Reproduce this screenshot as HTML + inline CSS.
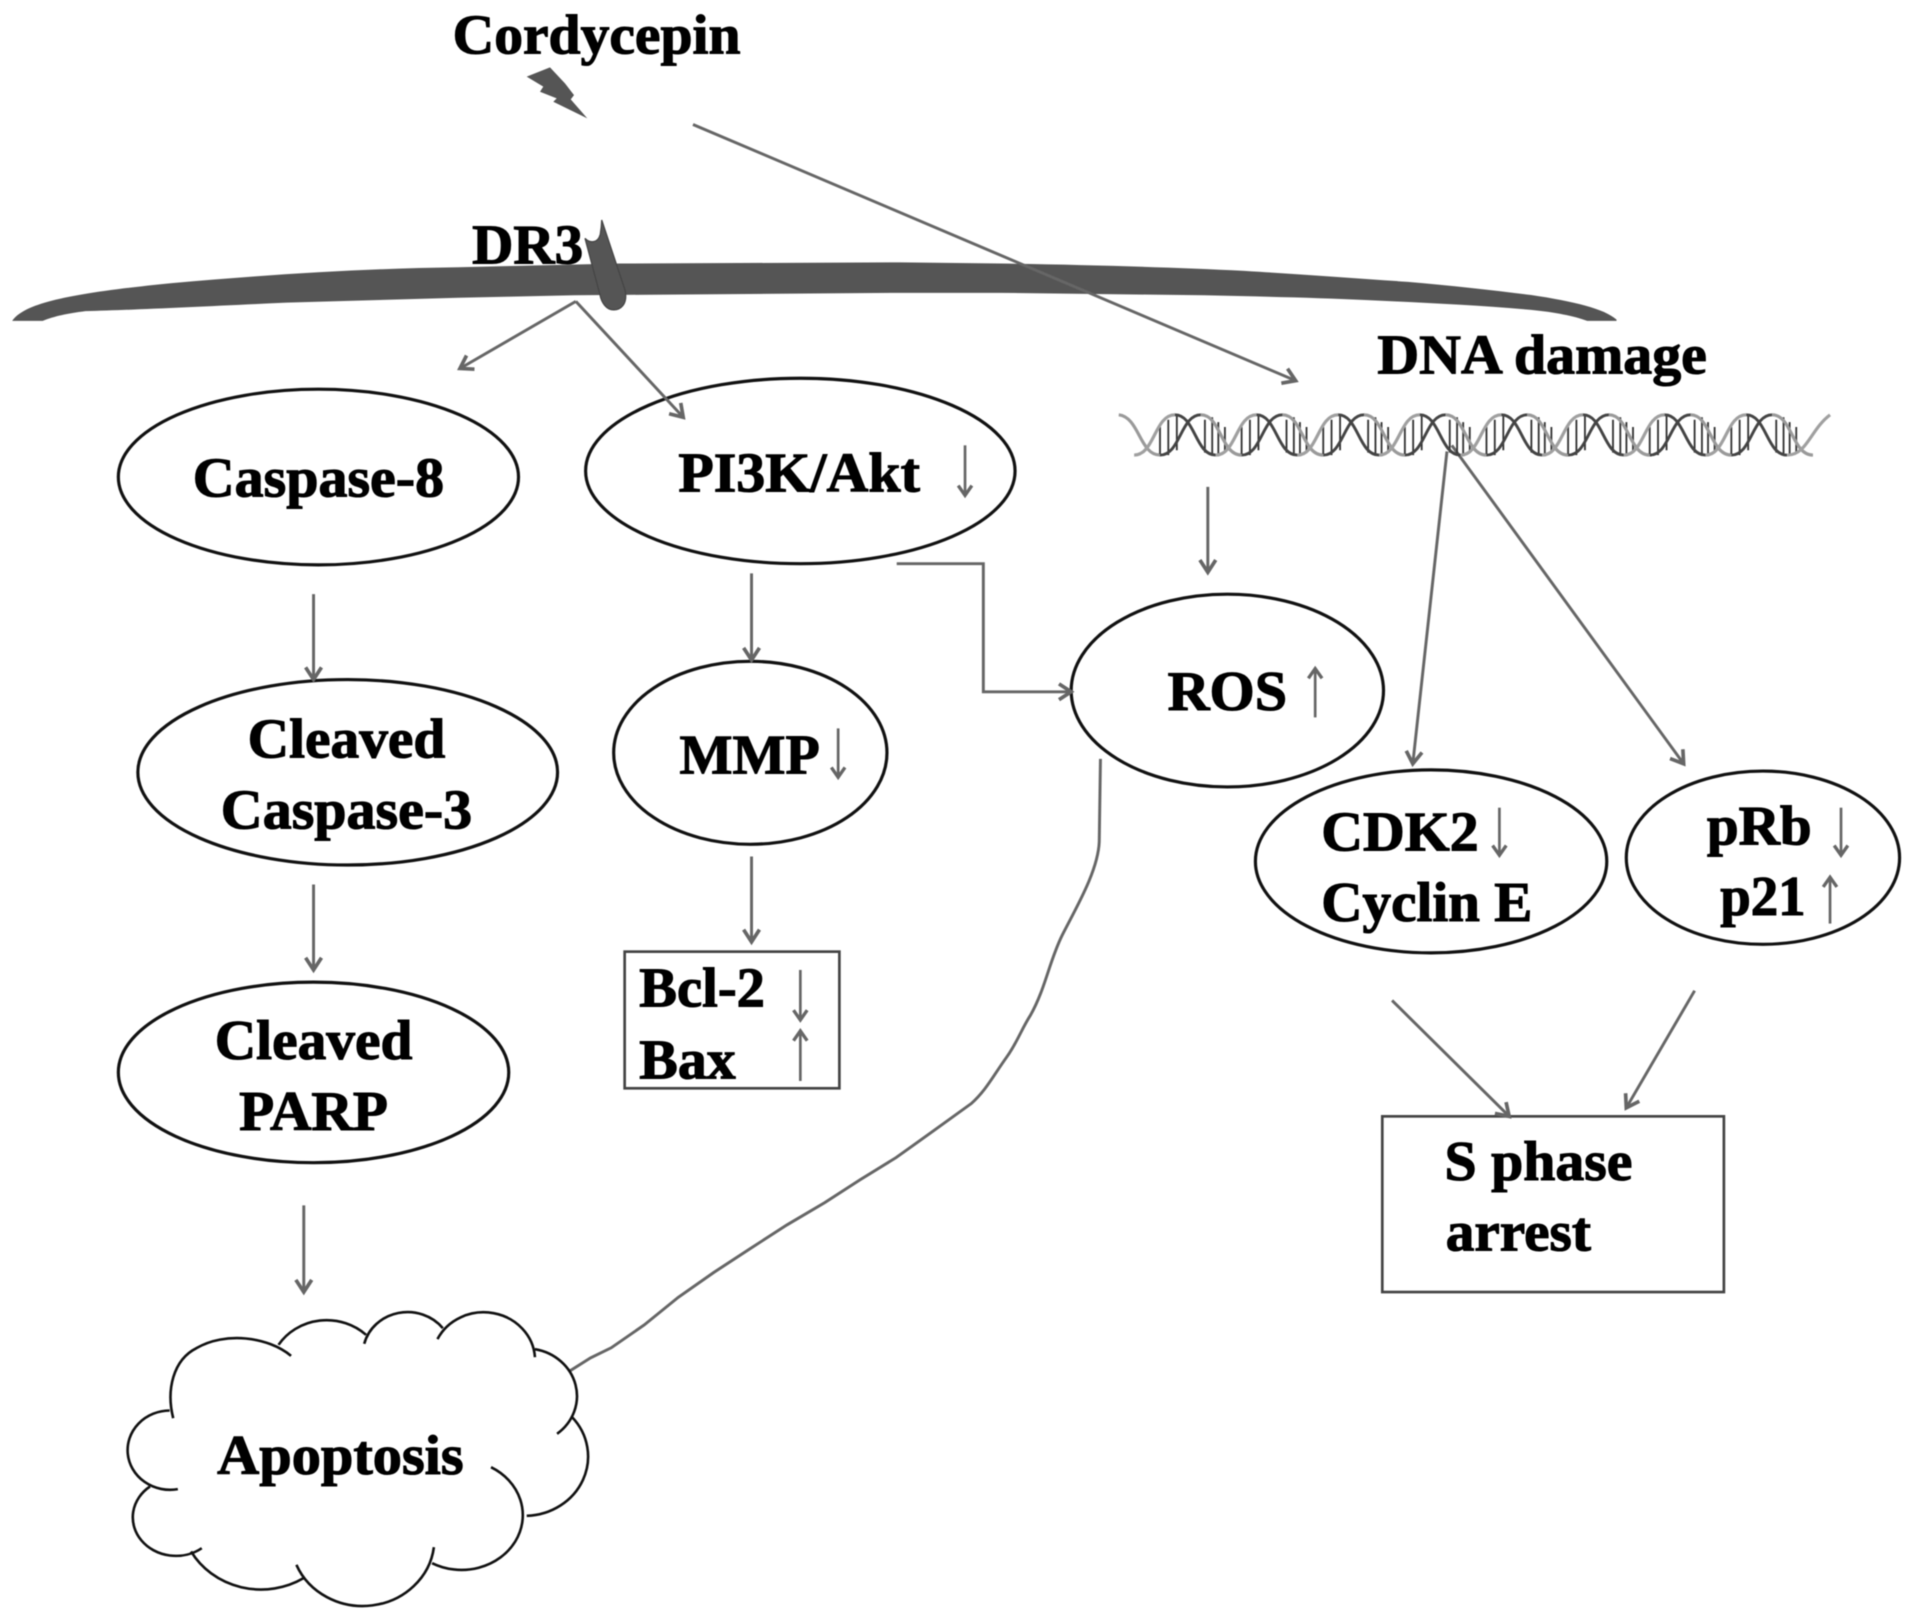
<!DOCTYPE html>
<html><head><meta charset="utf-8"><style>
html,body{margin:0;padding:0;background:#fff}
svg{display:block;filter:blur(.55px)}
text{font-family:"Liberation Serif",serif;font-weight:bold;font-size:46px;fill:#000;stroke:#000;stroke-width:.9px}
.e{fill:#fff;stroke:#111;stroke-width:2.6}
.a{fill:none;stroke:#666;stroke-width:2.4;marker-end:url(#h)}
.s{fill:none;stroke:#666;stroke-width:2.2;marker-end:url(#h2)}
.b{fill:#fff;stroke:#444;stroke-width:2.2}
</style></head><body>
<svg width="1913" height="1620" viewBox="0 0 1568 1327.8" xmlns="http://www.w3.org/2000/svg">
<defs>
<marker id="h" markerUnits="userSpaceOnUse" markerWidth="20" markerHeight="20" refX="14" refY="10" orient="auto" viewBox="0 0 20 20"><path d="M4,3.5 L14,10 L4,16.5" fill="none" stroke="#666" stroke-width="3"/></marker>
<marker id="h2" markerUnits="userSpaceOnUse" markerWidth="16" markerHeight="16" refX="14" refY="10" orient="auto" viewBox="0 0 20 20"><path d="M4,3 L14,10 L4,17" fill="none" stroke="#666" stroke-width="3.4"/></marker>
<g id="p">
<path d="M21.2,350 V372 M28,344 V373 M35,341 V369 M58,344 V371 M64,342 V373 M69,346 V373 M74.4,350 V371" stroke="#333" stroke-width="1.5"/>
<path d="M0,373 C16.7,373 16.7,340 33.45,340" fill="none" stroke="#a0a0a0" stroke-width="2.6"/>
<path d="M33.45,340 C50,340 50,373 66.9,373" fill="none" stroke="#444" stroke-width="2.4"/>
<path d="M21.2,373 C38,373 38,340 54.65,340" fill="none" stroke="#444" stroke-width="2.4"/>
<path d="M54.65,340 C71,340 71,373 88.1,373" fill="none" stroke="#9a9a9a" stroke-width="2.6"/>
</g>
</defs>
<rect width="1568" height="1327.8" fill="#fff"/>

<!-- membrane -->
<path d="M10,263 C20,248 60,240 141,232 C220,225 300,220 376,219 L508,216 L738,215 L820,216 C890,217 960,219 1020,222 C1070,225 1110,228 1154,231 C1190,234 1225,238 1255,241.8 C1290,247 1315,253 1325,262 L1325,263 L1301,263 C1290,259 1275,256 1255,254 C1210,250 1165,248 1121,246 C1080,244 1030,243 987,242 L820,240 L738,240 L471,242 L376,244 L235,248 C170,251 110,254 70,255 C55,257 45,259 35,263 Z" fill="#555"/>
<text x="387" y="216" textLength="91" lengthAdjust="spacingAndGlyphs">DR3</text>
<path d="M479.5,195.3 C483,199 490,200 492,192 Q493,186 493.2,180.3 L512.3,237.7 C515,250 508,254 503,254 C497,254 493,248 491.8,241.8 Z" fill="#555" stroke="#444" stroke-width="1"/>

<text x="371" y="44" textLength="236" lengthAdjust="spacingAndGlyphs">Cordycepin</text>
<path d="M431.7,62.8 L450.8,55.2 L463.1,68.3 L470.5,77.9 L467.8,81.4 L481.4,97 L453.5,83.4 L456.3,80.6 L442.6,75.2 L445.3,71 Z" fill="#555"/>

<line class="a" x1="568" y1="102" x2="1062" y2="312"/>
<line class="a" x1="472" y1="247" x2="377" y2="302"/>

<ellipse class="e" cx="261" cy="391" rx="164" ry="72"/>
<ellipse class="e" cx="656" cy="386" rx="176" ry="76"/>
<ellipse class="e" cx="285" cy="633" rx="172" ry="76"/>
<ellipse class="e" cx="257" cy="879" rx="160" ry="74"/>
<ellipse class="e" cx="615" cy="617" rx="112" ry="75"/>
<ellipse class="e" cx="1006" cy="566" rx="128" ry="79"/>
<ellipse class="e" cx="1173" cy="706" rx="144" ry="75"/>
<ellipse class="e" cx="1445" cy="703" rx="112" ry="71"/>
<rect class="b" x="512" y="780" width="176" height="112"/>
<rect class="b" x="1133" y="915" width="280" height="144"/>

<line class="a" x1="472" y1="247" x2="560" y2="342"/>

<text x="158" y="407" textLength="206" lengthAdjust="spacingAndGlyphs">Caspase-8</text>
<text x="556" y="403" textLength="198" lengthAdjust="spacingAndGlyphs">PI3K/Akt</text>
<text x="203" y="621" textLength="162" lengthAdjust="spacingAndGlyphs">Cleaved</text>
<text x="181" y="679" textLength="206" lengthAdjust="spacingAndGlyphs">Caspase-3</text>
<text x="176" y="868" textLength="162" lengthAdjust="spacingAndGlyphs">Cleaved</text>
<text x="196" y="926" textLength="122" lengthAdjust="spacingAndGlyphs">PARP</text>
<text x="557" y="634" textLength="115" lengthAdjust="spacingAndGlyphs">MMP</text>
<text x="524" y="825" textLength="103" lengthAdjust="spacingAndGlyphs">Bcl-2</text>
<text x="524" y="884" textLength="79" lengthAdjust="spacingAndGlyphs">Bax</text>
<text x="957" y="582" textLength="98" lengthAdjust="spacingAndGlyphs">ROS</text>
<text x="1083" y="697" textLength="129" lengthAdjust="spacingAndGlyphs">CDK2</text>
<text x="1083" y="755" textLength="173" lengthAdjust="spacingAndGlyphs">Cyclin E</text>
<text x="1399" y="692" textLength="86" lengthAdjust="spacingAndGlyphs">pRb</text>
<text x="1410" y="750" textLength="70" lengthAdjust="spacingAndGlyphs">p21</text>
<text x="1184" y="967" textLength="154" lengthAdjust="spacingAndGlyphs">S phase</text>
<text x="1185" y="1025" textLength="119" lengthAdjust="spacingAndGlyphs">arrest</text>
<text x="178" y="1208" textLength="202" lengthAdjust="spacingAndGlyphs">Apoptosis</text>
<text x="1129" y="306" textLength="270" lengthAdjust="spacingAndGlyphs">DNA damage</text>

<!-- vertical arrows -->
<line class="a" x1="257" y1="487" x2="257" y2="557"/>
<line class="a" x1="257" y1="725" x2="257" y2="795"/>
<line class="a" x1="249" y1="988" x2="249" y2="1059"/>
<line class="a" x1="616" y1="470" x2="616" y2="541"/>
<line class="a" x1="616" y1="702" x2="616" y2="772"/>
<line class="a" x1="990" y1="399" x2="990" y2="469"/>
<!-- small arrows -->
<line class="s" x1="791" y1="365" x2="791" y2="406"/>
<line class="s" x1="687" y1="597" x2="687" y2="637"/>
<line class="s" x1="1078" y1="588" x2="1078" y2="548"/>
<line class="s" x1="1229" y1="662" x2="1229" y2="701"/>
<line class="s" x1="1509" y1="662" x2="1509" y2="701"/>
<line class="s" x1="1500" y1="757" x2="1500" y2="719"/>
<line class="s" x1="656" y1="795" x2="656" y2="836"/>
<line class="s" x1="656" y1="886" x2="656" y2="845"/>
<!-- connectors -->
<path class="a" d="M735,462 H806 V567 H878"/>
<line class="a" x1="1186" y1="370" x2="1158" y2="626"/>
<line class="a" x1="1190" y1="365" x2="1380" y2="626"/>
<line class="a" x1="1141" y1="820" x2="1237" y2="915"/>
<line class="a" x1="1389" y1="812" x2="1333" y2="908"/>
<path d="M902,622 L901,690 C900,714 882,744 870.6,766.6 C860,788 857,810 844.7,832 C837,844 834,854 825,866.6 C814,882 808,894 796,904.6 L765,927 L734.5,948.8 L705,967 L676,985.7 L645,1004 L614.6,1023.6 L585,1043 L556,1063.3 L528,1086 L501,1104.7 L484,1113 L467,1123.7" fill="none" stroke="#666" stroke-width="2.4"/>

<!-- DNA -->
<path d="M917,340 C934,342 934,373 950.8,373" fill="none" stroke="#9a9a9a" stroke-width="2.6"/>
<use href="#p" x="929.6"/><use href="#p" x="996.5"/><use href="#p" x="1063.4"/><use href="#p" x="1130.3"/><use href="#p" x="1197.2"/><use href="#p" x="1264.1"/><use href="#p" x="1331"/><use href="#p" x="1397.9"/>
<path d="M1465,373 C1481,373 1484,352 1500,340" fill="none" stroke="#a0a0a0" stroke-width="2.6"/>

<!-- cloud -->
<g transform="translate(81.96,1049) scale(.2927,.2732)">
<path fill="none" stroke="#111" stroke-width="2.6" vector-effect="non-scaling-stroke" d="
M205,415 C185,330 205,240 270,205 C350,155 470,170 535,228
M500,195 A160 160 0 0 1 745,165
M740,192 A125 125 0 0 1 960,145
M945,178 A144 144 0 0 1 1218,232
M1218,208 A143 143 0 0 1 1280,462
M1322,412 A178 178 0 0 1 1195,708
M1095,562 A167 160 0 1 1 930,850
M935,802 A201 201 0 0 1 550,855
M570,895 A225 225 0 0 1 255,815
M285,805 A120 115 0 0 1 140,620
M218,628 A119 119 0 1 1 195,392"/>
</g>
</svg>
</body></html>
